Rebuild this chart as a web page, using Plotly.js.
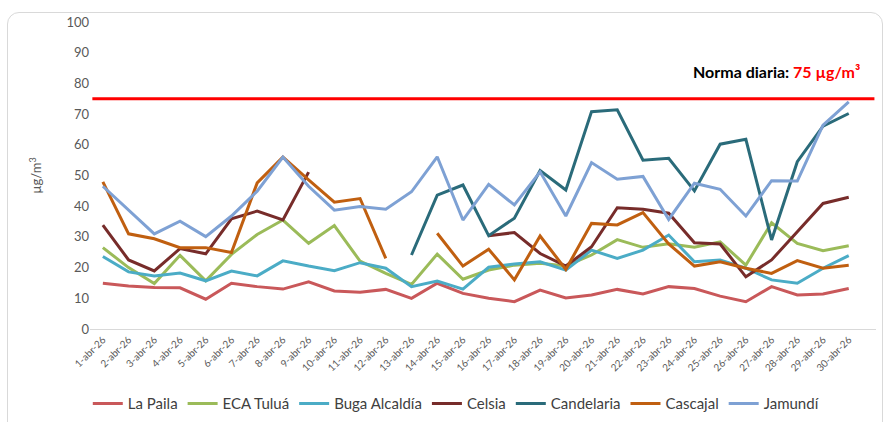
<!DOCTYPE html>
<html>
<head>
<meta charset="utf-8">
<script src="https://cdn.plot.ly/plotly-3.0.1.min.js"></script>
<style>
  body { margin: 0; background: #fff; }
  #chart { position: absolute; left: 0; top: 0; width: 886px; height: 422px; }
  #frame { position: absolute; left: 7px; top: 12px; width: 874px; height: 420px;
           border: 1px solid #d9d9d9; border-radius: 12px; pointer-events: none; }
</style>
</head>
<body>
<div id="chart"></div>
<div id="frame"></div>
<script>
// Days of April 2026
let days = ["1-abr-26", "2-abr-26", "3-abr-26", "4-abr-26", "5-abr-26", "6-abr-26",
  "7-abr-26", "8-abr-26", "9-abr-26", "10-abr-26", "11-abr-26", "12-abr-26",
  "13-abr-26", "14-abr-26", "15-abr-26", "16-abr-26", "17-abr-26", "18-abr-26",
  "19-abr-26", "20-abr-26", "21-abr-26", "22-abr-26", "23-abr-26", "24-abr-26",
  "25-abr-26", "26-abr-26", "27-abr-26", "28-abr-26", "29-abr-26", "30-abr-26"];

// Daily concentrations per station (null = no data)
let laPaila = [14.9, 14.0, 13.5, 13.4, 9.7, 14.9, 13.8, 13.0, 15.4, 12.4, 12.0, 12.9, 10.0, 14.9, 11.6,
  10.0, 8.9, 12.7, 10.1, 11.1, 12.9, 11.4, 13.8, 13.2, 10.7, 8.9, 13.8, 11.1, 11.4, 13.2];
let ecaTulua = [26.5, 20.0, 14.8, 24.0, 15.7, 24.3, 30.8, 35.5, 27.9, 33.7, 22.1, 18.1, 14.5, 24.4, 16.2,
  19.2, 20.8, 21.4, 20.5, 24.1, 29.1, 26.6, 27.8, 26.6, 28.4, 20.8, 34.6, 27.9, 25.5, 27.1];
let bugaAlcaldia = [23.6, 18.6, 17.3, 18.2, 15.7, 18.9, 17.3, 22.2, 20.5, 19.0, 21.6, 19.8, 13.8, 15.6, 13.0,
  20.1, 21.2, 21.9, 19.2, 25.7, 23.0, 25.7, 30.6, 21.9, 22.5, 19.8, 16.0, 14.9, 19.8, 23.9];
let celsia = [33.8, 22.5, 18.9, 26.2, 24.5, 35.9, 38.4, 35.5, 51.1, null, null, null, null, null, null,
  30.4, 31.4, 24.6, 20.5, 26.8, 39.5, 39.0, 37.7, 28.1, 27.7, 17.0, 22.5, 31.7, 40.9, 42.9];
let candelaria = [null, null, null, null, null, null, null, null, null, null, null, null, 24.1, 43.6, 46.9,
  30.4, 36.1, 51.6, 45.3, 70.8, 71.4, 55.0, 55.6, 45.0, 60.2, 61.8, 29.0, 54.5, 66.1, 70.2];
let cascajal = [47.9, 31.0, 29.4, 26.5, 26.5, 24.9, 47.6, 56.0, 48.6, 41.3, 42.5, 23.0, null, 31.2, 20.5,
  26.0, 16.0, 30.3, 19.4, 34.4, 33.9, 37.9, 27.7, 20.5, 21.9, 19.8, 18.1, 22.3, 19.8, 20.8];
let jamundi = [46.5, 38.9, 31.0, 35.1, 30.1, 36.8, 44.9, 56.0, 46.5, 38.7, 39.9, 39.0, 44.7, 56.1, 35.5,
  47.1, 40.4, 51.2, 36.8, 54.2, 48.8, 49.7, 35.7, 47.5, 45.5, 36.8, 48.3, 48.2, 66.4, 74.0];

let stations = ["La Paila", "ECA Tuluá", "Buga Alcaldía", "Celsia", "Candelaria", "Cascajal", "Jamundí"];
let norma = 75;

let series = [laPaila, ecaTulua, bugaAlcaldia, celsia, candelaria, cascajal, jamundi];
let colors = ["#c9585a", "#9bbb59", "#4bacc6", "#772c2a", "#2a6b7a", "#c05f10", "#7ea1d4"];

let data = series.map((vals, k) => ({
  x: days,
  y: vals,
  type: "scatter",
  mode: "lines",
  name: stations[k],
  connectgaps: false,
  line: { color: colors[k], width: 3 }
}));

let layout = {
  width: 886,
  height: 422,
  margin: { l: 90, r: 10, t: 22, b: 93 },
  paper_bgcolor: "rgba(0,0,0,0)",
  plot_bgcolor: "rgba(0,0,0,0)",
  font: { family: "Lato, sans-serif", color: "#595959" },
  showlegend: true,
  legend: {
    orientation: "h",
    xref: "container", yref: "container",
    x: 0.515, xanchor: "center",
    y: 0.043, yanchor: "middle",
    font: { size: 15, color: "#404040" },
    itemwidth: 30,
    traceorder: "normal"
  },
  xaxis: {
    type: "category",
    automargin: false,
    range: [-0.5, 30.06],
    tickangle: -45,
    tickfont: { size: 10, color: "#595959" },
    showgrid: false,
    showline: true,
    linecolor: "#d9d9d9",
    linewidth: 1,
    ticks: "",
    zeroline: false
  },
  yaxis: {
    automargin: false,
    range: [0, 100],
    dtick: 10,
    showgrid: false,
    zeroline: false,
    ticks: "",
    tickfont: { size: 13, color: "#595959" },
    title: { text: "µg/m<sup>3</sup>", font: { size: 13, color: "#595959" }, standoff: 21 }
  },
  shapes: [{
    type: "line",
    xref: "paper", yref: "y",
    x0: 0.003, x1: 0.998,
    y0: norma, y1: norma,
    line: { color: "#ff0000", width: 3 }
  }],
  annotations: [{
    xref: "paper", yref: "y",
    x: 0.982, y: 84,
    xanchor: "right", yanchor: "middle",
    showarrow: false,
    text: "<b>Norma diaria: <span style='color:#ff0000'>" + norma + " µg/m³</span></b>",
    font: { size: 16, color: "#000000" }
  }]
};

Plotly.newPlot("chart", data, layout, { displayModeBar: false, staticPlot: true });
</script>
</body>
</html>
